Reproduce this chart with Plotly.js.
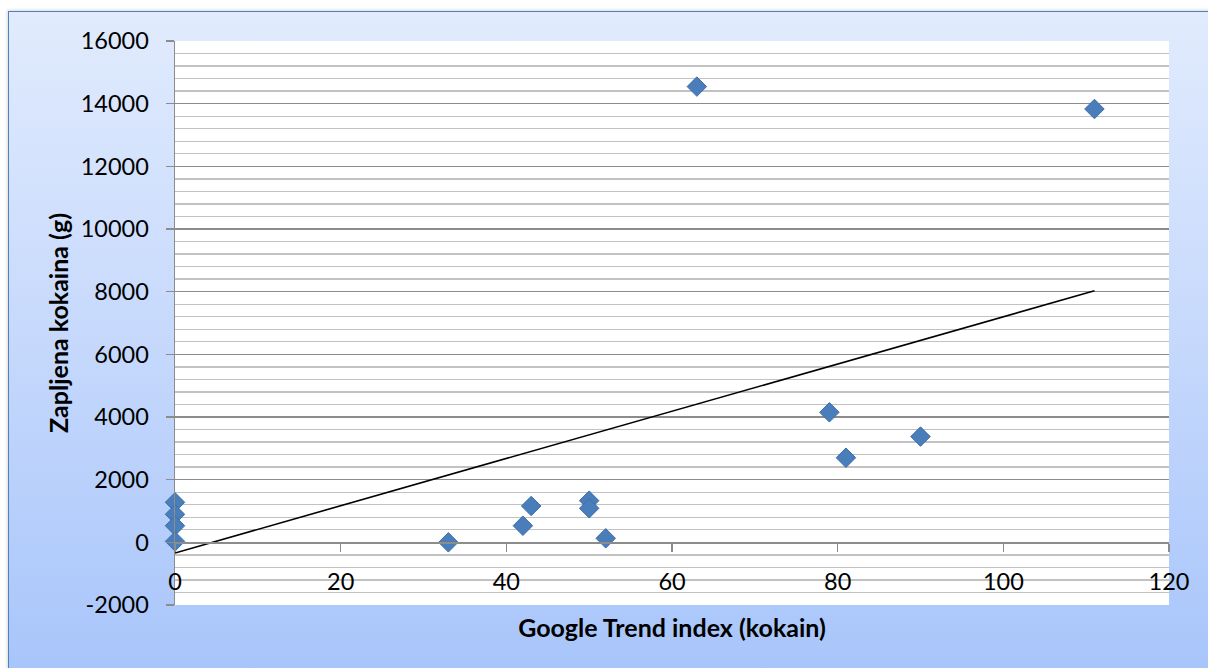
<!DOCTYPE html>
<html>
<head>
<meta charset="utf-8">
<script src="https://cdn.plot.ly/plotly-3.0.1.min.js"></script>
<style>
  html, body { margin: 0; padding: 0; background: #ffffff; width: 1208px; height: 668px; overflow: hidden; }
  #frame {
    position: absolute; left: 8px; top: 11px; width: 1220px; height: 680px;
    border: 1.5px solid #4f81bd;
    background: linear-gradient(to bottom, #e1ebfd 0%, #c5d8fc 50%, #a6c4fa 100%);
    box-shadow: -1px -1px 3px rgba(0,0,0,0.15);
  }
  #chart { position: absolute; left: 0; top: 0; width: 1208px; height: 668px; }
</style>
</head>
<body>
<div id="frame"></div>
<div id="chart"></div>
<script>
// Data
const googleTrendIndex = [0, 0, 0, 0, 33, 42, 43, 50, 50, 52, 63, 79, 81, 90, 111];
const seizedCocaine   = [1277, 894, 530, 30, 0, 530, 1160, 1330, 1085, 128, 14545, 4150, 2700, 3375, 13830];

// Linear trendline coefficients
const trendSlope = 75.4;
const trendIntercept = -340;

// Axes
const xRange = [0, 120];
const xTicks = [0, 20, 40, 60, 80, 100, 120];
const yRange = [-2000, 16000];
const yTicks = [-2000, 0, 2000, 4000, 6000, 8000, 10000, 12000, 14000, 16000];
const yMinorStep = 400;

const xTitle = 'Google Trend index (kokain)';
const yTitle = 'Zapljena kokaina (g)';

const trendX = [Math.min(...googleTrendIndex), Math.max(...googleTrendIndex)];
const trendY = trendX.map(x => trendSlope * x + trendIntercept);

const fontFam = 'Lato, "Open Sans", sans-serif';

const traces = [
  {
    x: trendX, y: trendY, type: 'scatter', mode: 'lines',
    line: { color: '#000000', width: 1.6 },
    hoverinfo: 'skip', showlegend: false
  },
  {
    x: googleTrendIndex, y: seizedCocaine, type: 'scatter', mode: 'markers',
    marker: { symbol: 'diamond', size: 15, color: '#4a7ebb', line: { color: '#3f6da6', width: 1 } },
    showlegend: false, cliponaxis: false
  }
];

const layout = {
  width: 1208, height: 668,
  paper_bgcolor: 'rgba(0,0,0,0)',
  plot_bgcolor: '#ffffff',
  margin: { l: 175, r: 39, t: 41, b: 63, pad: 0 },
  showlegend: false,
  font: { family: fontFam, color: '#000000', size: 23 },
  xaxis: {
    range: xRange,
    tickmode: 'array', tickvals: xTicks, ticktext: xTicks.map(String),
    anchor: 'free',
    position: (0 - yRange[0]) / (yRange[1] - yRange[0]),
    showline: true, linecolor: '#8c8c8c', linewidth: 1.5,
    ticks: 'outside', ticklen: 8, tickwidth: 1.5, tickcolor: '#8c8c8c',
    ticklabelstandoff: 10,
    showgrid: false, zeroline: false,
    tickfont: { family: fontFam, size: 23.5, color: '#000' },
    title: { text: xTitle, font: { family: fontFam, size: 25, color: '#000', weight: 'bold' }, standoff: 25 },
    automargin: false
  },
  yaxis: {
    range: yRange,
    tickmode: 'array', tickvals: yTicks, ticktext: yTicks.map(String),
    showline: true, linecolor: '#8c8c8c', linewidth: 1.5,
    ticks: 'outside', ticklen: 8, tickwidth: 1.5, tickcolor: '#8c8c8c',
    ticklabelstandoff: 12,
    showgrid: true, gridcolor: '#8c8c8c', gridwidth: 1.4,
    zeroline: false,
    minor: { dtick: yMinorStep, tick0: 0, showgrid: true, gridcolor: '#c2c2c2', gridwidth: 1.3, ticks: '' },
    tickfont: { family: fontFam, size: 23.5, color: '#000' },
    title: { text: yTitle, font: { family: fontFam, size: 25, color: '#000', weight: 'bold' }, standoff: 5 },
    automargin: false
  }
};

Plotly.newPlot('chart', traces, layout, { displayModeBar: false, staticPlot: true });
</script>
</body>
</html>
